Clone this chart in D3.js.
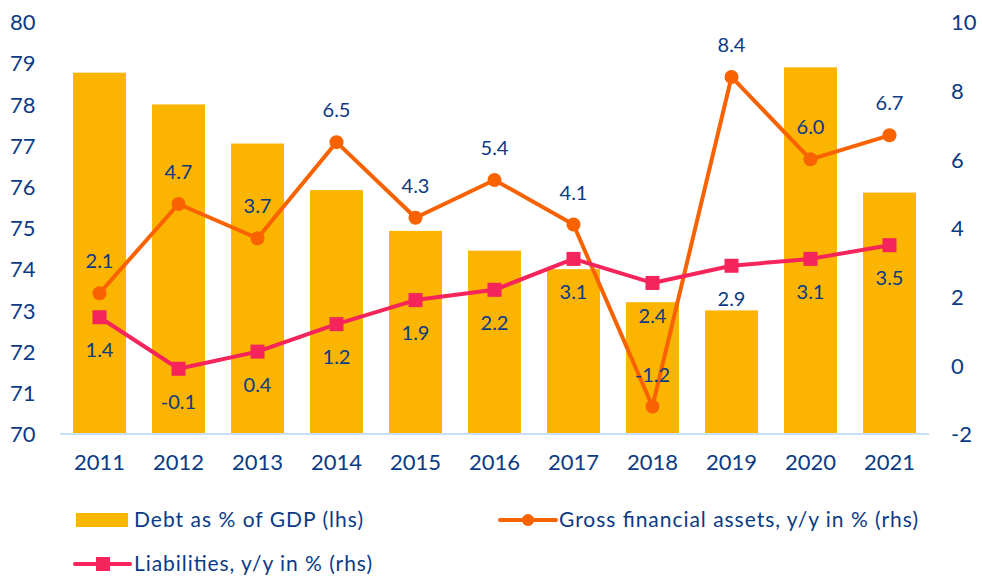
<!DOCTYPE html>
<html><head><meta charset="utf-8">
<script src="https://cdn.jsdelivr.net/npm/d3@7"></script>
<style>body{margin:0;background:#fff}svg{display:block}text{font-family:Lato,"Open Sans",sans-serif;fill:#0b3a84}</style>
</head><body><svg id="c" width="982" height="581"></svg>
<script>
const years = ["2011","2012","2013","2014","2015","2016","2017","2018","2019","2020","2021"];
const debt = [78.77, 78.0, 77.05, 75.92, 74.93, 74.45, 74.0, 73.2, 73.0, 78.9, 75.86];
const gfa = [2.1, 4.7, 3.7, 6.5, 4.3, 5.4, 4.1, -1.2, 8.4, 6.0, 6.7];
const liab = [1.4, -0.1, 0.4, 1.2, 1.9, 2.2, 3.1, 2.4, 2.9, 3.1, 3.5];
const leftTicks = [70,71,72,73,74,75,76,77,78,79,80];
const rightTicks = [-2,0,2,4,6,8,10];
const labels = {debt:"Debt as % of GDP (lhs)", gfa:"Gross financial assets, y/y in % (rhs)", liab:"Liabilities, y/y in % (rhs)"};

const C = {bar:"#fbb400", gfa:"#f86200", liab:"#f5245a", text:"#0b3a84", axis:"#c9defa"};
const svg = d3.select("#c");
const x = d3.scaleBand().domain(years).range([60, 929]).paddingInner(0.33).paddingOuter(0.165);
const yL = d3.scaleLinear().domain([70, 80]).range([434, 22]);
const yR = d3.scaleLinear().domain([-2, 10]).range([434, 22]);
const fmt = d => String(d);

// bars
svg.append("g").selectAll("rect").data(years).join("rect")
  .attr("x", d => x(d)).attr("width", x.bandwidth())
  .attr("y", (d,i) => yL(debt[i])).attr("height", (d,i) => yL(70) - yL(debt[i]))
  .attr("fill", C.bar);

// baseline
svg.append("line").attr("x1", 60).attr("x2", 929).attr("y1", 434).attr("y2", 434)
  .attr("stroke", C.axis).attr("stroke-width", 2);

// left axis labels
const axL = svg.append("g").attr("transform","translate(10,0)")
  .call(d3.axisLeft(yL).tickValues(leftTicks).tickFormat(fmt).tickSize(0).tickPadding(0));
axL.select(".domain").remove();
axL.selectAll("text").attr("text-anchor","start").attr("fill",C.text).style("font-size","22px").attr("dy","0.35em");

// right axis labels
const axR = svg.append("g").attr("transform","translate(951,0)")
  .call(d3.axisRight(yR).tickValues(rightTicks).tickFormat(fmt).tickSize(0).tickPadding(0));
axR.select(".domain").remove();
axR.selectAll("text").attr("fill",C.text).style("font-size","22px").attr("dy","0.35em");

// x axis labels
const axX = svg.append("g").attr("transform","translate(0,434)")
  .call(d3.axisBottom(x).tickSize(0).tickPadding(20));
axX.select(".domain").remove();
axX.selectAll("text").attr("fill",C.text).style("font-size","22px");

const cx = d => x(d) + x.bandwidth()/2;

// gfa line
svg.append("path").datum(years).attr("fill","none").attr("stroke",C.gfa).attr("stroke-width",4)
  .attr("stroke-linejoin","round")
  .attr("d", d3.line().x(d => cx(d)).y((d,i) => yR(gfa[i])));
svg.append("g").selectAll("circle").data(years).join("circle")
  .attr("cx", cx).attr("cy", (d,i) => yR(gfa[i])).attr("r", 7).attr("fill", C.gfa);

// liabilities line
svg.append("path").datum(years).attr("fill","none").attr("stroke",C.liab).attr("stroke-width",4)
  .attr("stroke-linejoin","round")
  .attr("d", d3.line().x(d => cx(d)).y((d,i) => yR(liab[i])));
svg.append("g").selectAll("rect").data(years).join("rect")
  .attr("x", d => cx(d)-7).attr("y", (d,i) => yR(liab[i])-7).attr("width",14).attr("height",14).attr("fill", C.liab);

// data labels
svg.append("g").selectAll("text").data(years).join("text")
  .attr("x", cx).attr("y", (d,i) => yR(gfa[i]) - 32).attr("dy","0.35em")
  .attr("text-anchor","middle").style("font-size","20px").attr("fill",C.text)
  .text((d,i) => gfa[i].toFixed(1));
svg.append("g").selectAll("text").data(years).join("text")
  .attr("x", cx).attr("y", (d,i) => yR(liab[i]) + 33).attr("dy","0.35em")
  .attr("text-anchor","middle").style("font-size","20px").attr("fill",C.text)
  .text((d,i) => liab[i].toFixed(1));

// legend
const lg = svg.append("g").style("font-size","21px");
lg.append("rect").attr("x",76).attr("y",513).attr("width",52).attr("height",14).attr("fill",C.bar);
lg.append("text").attr("x",134).attr("y",520).attr("dy","0.35em").attr("fill",C.text)
  .attr("textLength",229).attr("lengthAdjust","spacing").text(labels.debt);

lg.append("line").attr("x1",500).attr("x2",556).attr("y1",520).attr("y2",520).attr("stroke",C.gfa).attr("stroke-width",4).attr("stroke-linecap","round");
lg.append("circle").attr("cx",528).attr("cy",520).attr("r",6).attr("fill",C.gfa);
lg.append("text").attr("x",559).attr("y",520).attr("dy","0.35em").attr("fill",C.text)
  .attr("textLength",359).attr("lengthAdjust","spacing").text(labels.gfa);

lg.append("line").attr("x1",75).attr("x2",130).attr("y1",564).attr("y2",564).attr("stroke",C.liab).attr("stroke-width",4).attr("stroke-linecap","round");
lg.append("rect").attr("x",96).attr("y",557).attr("width",14).attr("height",14).attr("fill",C.liab);
lg.append("text").attr("x",134).attr("y",564).attr("dy","0.35em").attr("fill",C.text)
  .attr("textLength",238).attr("lengthAdjust","spacing").text(labels.liab);
</script></body></html>
